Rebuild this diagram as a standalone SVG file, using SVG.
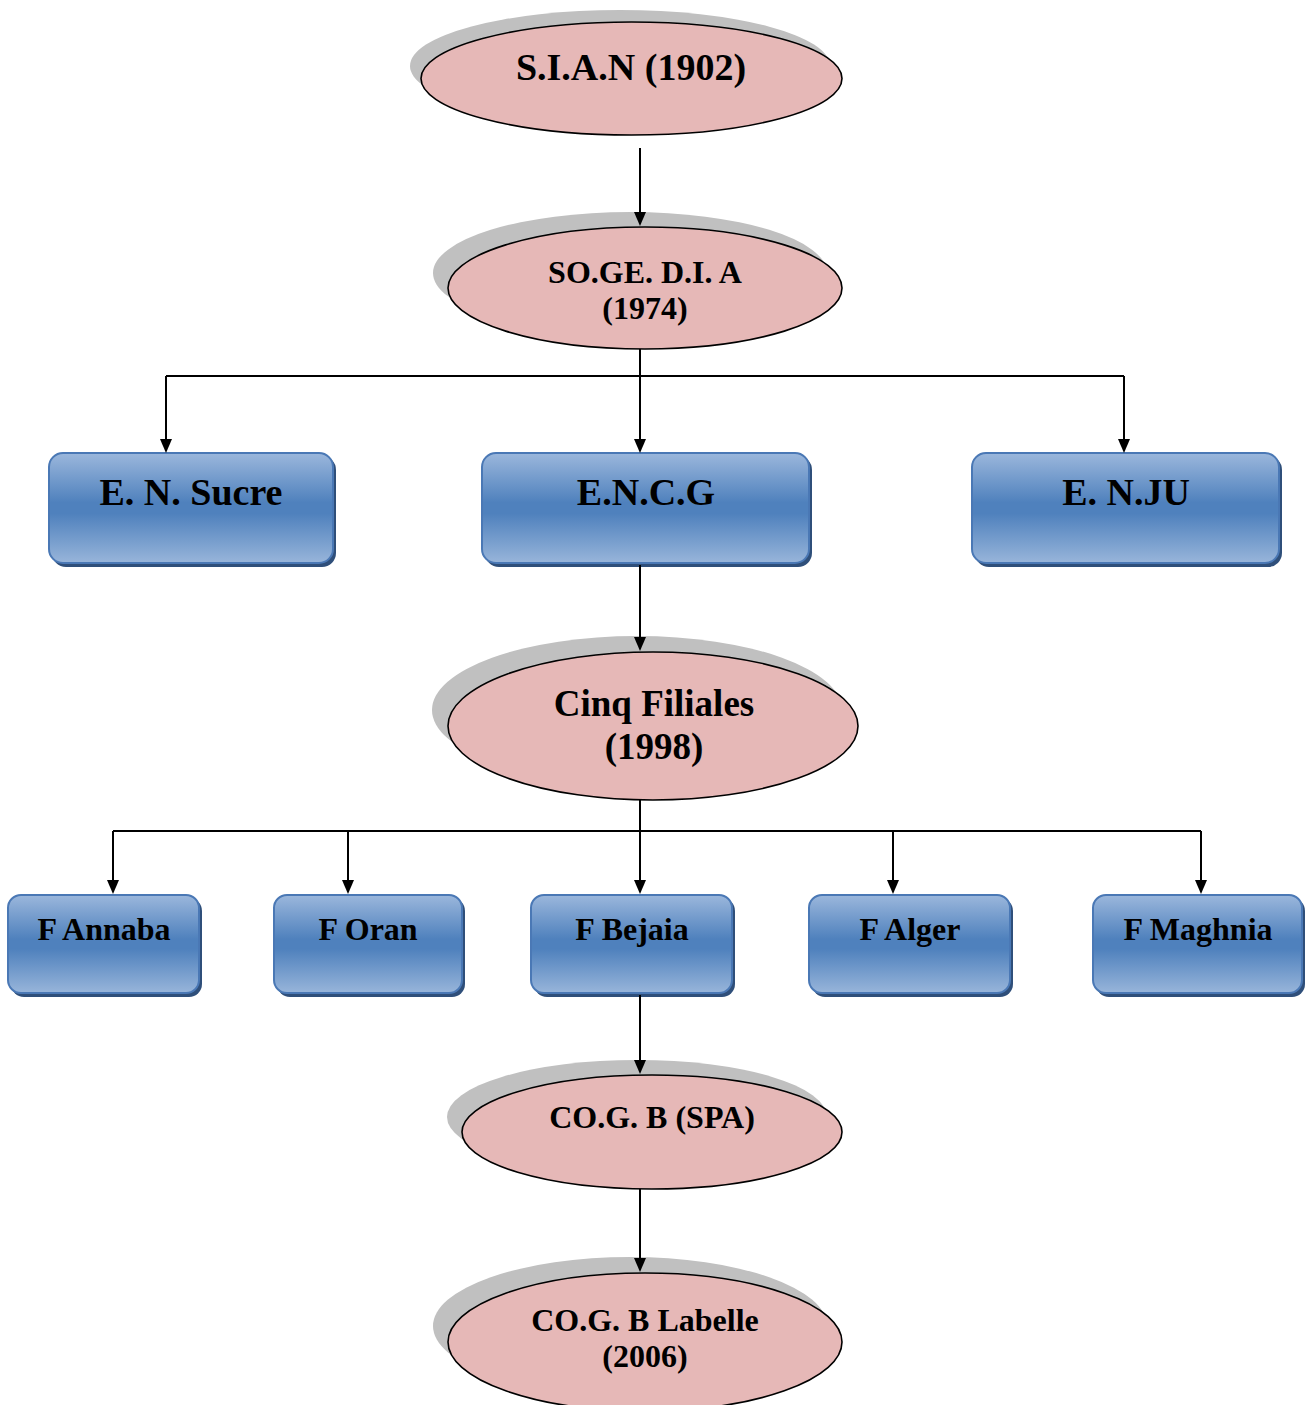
<svg xmlns="http://www.w3.org/2000/svg" width="1306" height="1405" viewBox="0 0 1306 1405">
<defs>
<linearGradient id="bg" x1="0" y1="0" x2="0" y2="1">
<stop offset="0" stop-color="#9bb7dc"/>
<stop offset="0.45" stop-color="#4f81bd"/>
<stop offset="0.55" stop-color="#4f81bd"/>
<stop offset="1" stop-color="#98b5da"/>
</linearGradient>
<style>
.sh{fill:#c0c0c0}
.el{fill:#e6b8b7;stroke:#000;stroke-width:1.6}
.bx{fill:url(#bg);stroke:#4a78b5;stroke-width:2}
.bs{fill:#2f4f7a}
.t{font-family:"Liberation Serif","Times New Roman",serif;font-weight:bold;fill:#000;text-anchor:middle}
.c{stroke:#000;stroke-width:2;fill:none}
.a{fill:#000}
</style>
</defs>
<g id="n-sian">
<ellipse class="sh" cx="620" cy="66" rx="210" ry="56"/>
<ellipse class="el" cx="631.5" cy="78.5" rx="210.5" ry="56.5"/>
<text class="t" x="631" y="80" font-size="38">S.I.A.N (1902)</text>
</g>
<g id="n-sogedia">
<ellipse class="sh" cx="630" cy="273" rx="197" ry="61"/>
<ellipse class="el" cx="645" cy="288" rx="197" ry="61"/>
<text class="t" x="645" y="283" font-size="32">SO.GE. D.I. A</text>
<text class="t" x="645" y="319" font-size="32">(1974)</text>
</g>
<g id="n-ensucre">
<rect class="bs" x="52" y="456" width="284" height="111" rx="14"/>
<rect class="bx" x="49" y="453" width="284" height="110" rx="14"/>
<text class="t" x="191" y="505" font-size="38">E. N. Sucre</text>
</g>
<g id="n-encg">
<rect class="bs" x="485" y="456" width="327" height="111" rx="14"/>
<rect class="bx" x="482" y="453" width="327" height="110" rx="14"/>
<text class="t" x="646" y="505" font-size="38">E.N.C.G</text>
</g>
<g id="n-enju">
<rect class="bs" x="975" y="456" width="307" height="111" rx="14"/>
<rect class="bx" x="972" y="453" width="307" height="110" rx="14"/>
<text class="t" x="1126" y="505" font-size="38">E. N.JU</text>
</g>
<g id="n-cinq">
<ellipse class="sh" cx="637" cy="710" rx="205" ry="74"/>
<ellipse class="el" cx="653" cy="726" rx="205" ry="74"/>
<text class="t" x="654" y="716" font-size="37">Cinq Filiales</text>
<text class="t" x="654" y="759" font-size="37">(1998)</text>
</g>
<g id="n-annaba">
<rect class="bs" x="11" y="898" width="191" height="99" rx="13"/>
<rect class="bx" x="8" y="895" width="191" height="98" rx="13"/>
<text class="t" x="104" y="940" font-size="32">F Annaba</text>
</g>
<g id="n-oran">
<rect class="bs" x="277" y="898" width="188" height="99" rx="13"/>
<rect class="bx" x="274" y="895" width="188" height="98" rx="13"/>
<text class="t" x="368" y="940" font-size="32">F Oran</text>
</g>
<g id="n-bejaia">
<rect class="bs" x="534" y="898" width="201" height="99" rx="13"/>
<rect class="bx" x="531" y="895" width="201" height="98" rx="13"/>
<text class="t" x="632" y="940" font-size="32">F Bejaia</text>
</g>
<g id="n-alger">
<rect class="bs" x="812" y="898" width="201" height="99" rx="13"/>
<rect class="bx" x="809" y="895" width="201" height="98" rx="13"/>
<text class="t" x="910" y="940" font-size="32">F Alger</text>
</g>
<g id="n-maghnia">
<rect class="bs" x="1096" y="898" width="209" height="99" rx="13"/>
<rect class="bx" x="1093" y="895" width="209" height="98" rx="13"/>
<text class="t" x="1198" y="940" font-size="32">F Maghnia</text>
</g>
<g id="n-cogb">
<ellipse class="sh" cx="637" cy="1117" rx="190" ry="57"/>
<ellipse class="el" cx="652" cy="1132" rx="190" ry="57"/>
<text class="t" x="652" y="1128" font-size="32">CO.G. B (SPA)</text>
</g>
<g id="n-labelle">
<ellipse class="sh" cx="630" cy="1326" rx="197" ry="69"/>
<ellipse class="el" cx="645" cy="1342" rx="197" ry="69"/>
<text class="t" x="645" y="1331" font-size="32">CO.G. B Labelle</text>
<text class="t" x="645" y="1367" font-size="32">(2006)</text>
</g>
<g id="connectors">
<line class="c" x1="640" y1="148" x2="640" y2="214"/>
<polygon class="a" points="634,212 646,212 640,226"/>
<line class="c" x1="640" y1="349" x2="640" y2="376"/>
<line class="c" x1="166" y1="376" x2="1124" y2="376"/>
<line class="c" x1="166" y1="376" x2="166" y2="440"/>
<line class="c" x1="640" y1="376" x2="640" y2="440"/>
<line class="c" x1="1124" y1="376" x2="1124" y2="440"/>
<polygon class="a" points="160,439 172,439 166,453"/>
<polygon class="a" points="634,439 646,439 640,453"/>
<polygon class="a" points="1118,439 1130,439 1124,453"/>
<line class="c" x1="640" y1="565" x2="640" y2="638"/>
<polygon class="a" points="634,637 646,637 640,651"/>
<line class="c" x1="640" y1="800" x2="640" y2="831"/>
<line class="c" x1="113" y1="831" x2="1201" y2="831"/>
<line class="c" x1="113" y1="831" x2="113" y2="881"/>
<line class="c" x1="348" y1="831" x2="348" y2="881"/>
<line class="c" x1="640" y1="831" x2="640" y2="881"/>
<line class="c" x1="893" y1="831" x2="893" y2="881"/>
<line class="c" x1="1201" y1="831" x2="1201" y2="881"/>
<polygon class="a" points="107,880 119,880 113,894"/>
<polygon class="a" points="342,880 354,880 348,894"/>
<polygon class="a" points="634,880 646,880 640,894"/>
<polygon class="a" points="887,880 899,880 893,894"/>
<polygon class="a" points="1195,880 1207,880 1201,894"/>
<line class="c" x1="640" y1="995" x2="640" y2="1061"/>
<polygon class="a" points="634,1060 646,1060 640,1074"/>
<line class="c" x1="640" y1="1189" x2="640" y2="1259"/>
<polygon class="a" points="634,1258 646,1258 640,1272"/>
</g>
</svg>
